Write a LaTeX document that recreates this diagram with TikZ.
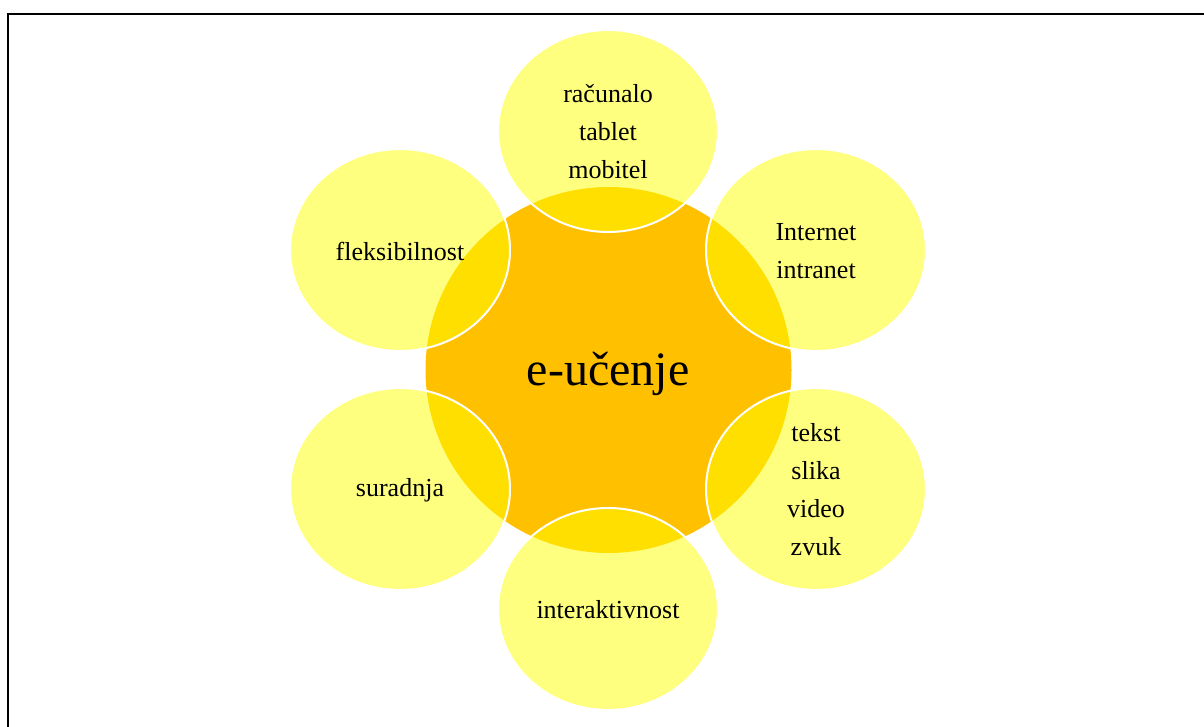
\documentclass[tikz,border=0pt]{standalone}
\usepackage{fontspec}
\setmainfont{Liberation Serif}
\usetikzlibrary{shapes.geometric}
\definecolor{hubcol}{HTML}{FFC000}
\definecolor{petalcol}{HTML}{FFFF00}
\begin{document}
\begin{tikzpicture}[x=1pt,y=-1pt,
  petal/.style={ellipse, draw=white, line width=2pt, fill=petalcol, fill opacity=0.5, draw opacity=1, minimum width=220pt, minimum height=202pt, inner sep=0pt},
  lbl/.style={align=center, font=\fontsize{26}{38}\selectfont, text=black, inner sep=0pt},
  hub/.style={circle, fill=hubcol, minimum size=366pt, inner sep=0pt},
  hublbl/.style={font=\fontsize{48}{56}\selectfont, text=black, inner sep=0pt},
  frame/.style={line width=2.5pt, draw=black}]
\useasboundingbox (0,0) rectangle (1204,726);
\clip (0,0) rectangle (1204,726);
\draw[frame] (8,760) -- (8,14) -- (1240,14);
\node[hub] (c) at (608.5,370) {};
\node[petal] (p1) at (608,131) {};
\node[petal] (p2) at (816,250) {};
\node[petal] (p3) at (816,489) {};
\node[petal] (p4) at (608,609) {};
\node[petal] (p5) at (400,489) {};
\node[petal] (p6) at (400,250) {};
\node[hublbl] (t0) at (608,374) {e-učenje};
\node[lbl] (t1) at ([yshift=-1pt]p1.center) {računalo\\tablet\\mobitel};
\node[lbl] (t2) at ([yshift=-1pt]p2.center) {Internet\\intranet};
\node[lbl] (t3) at ([yshift=-1pt]p3.center) {tekst\\slika\\video\\zvuk};
\node[lbl] (t4) at ([yshift=-1pt]p4.center) {interaktivnost};
\node[lbl] (t5) at ([yshift=-1pt]p5.center) {suradnja};
\node[lbl] (t6) at ([yshift=-1pt]p6.center) {fleksibilnost};
\end{tikzpicture}
\end{document}
